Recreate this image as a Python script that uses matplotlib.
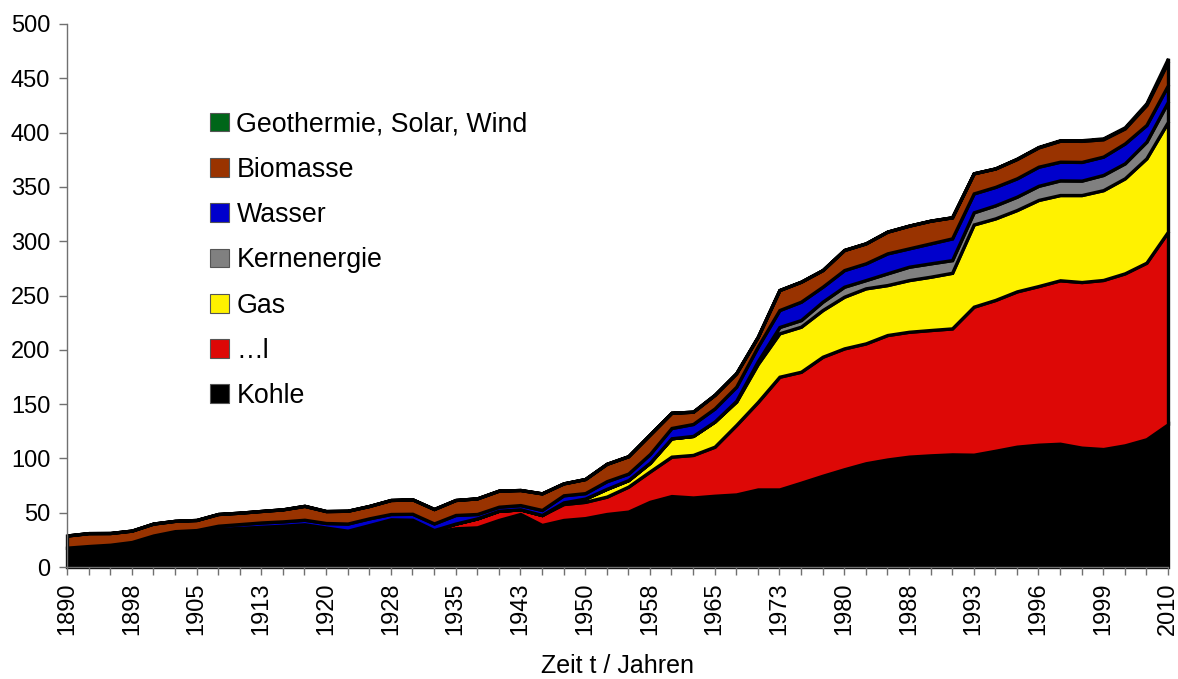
"""
Primärenergieverbrauch nach Energieträgern, 1890-2010 (gestapelte Flächen)
Nachbau einer Excel-Grafik mit matplotlib.
"""

import numpy as np
import matplotlib
matplotlib.use("Agg")  # kein Display vorhanden -> nur in Datei speichern
import matplotlib.pyplot as plt
from matplotlib.patches import Patch

plt.rcParams["font.family"] = ["Liberation Sans", "DejaVu Sans"]

# ===== Daten =====
# Kategorien der x-Achse (Excel-Kategorieachse, nur jede 3. beschriftet)
jahre = [
    "1890", "1893", "1895", "1898", "1900", "1903", "1905", "1908", "1910", "1913",
    "1915", "1918", "1920", "1923", "1925", "1928", "1930", "1933", "1935", "1938",
    "1940", "1943", "1945", "1948", "1950", "1953", "1955", "1958", "1960", "1963",
    "1965", "1968", "1970", "1973", "1975", "1978", "1980", "1983", "1985", "1988",
    "1990", "1992", "1993", "1994", "1995", "1996", "1997", "1998", "1999", "2000",
    "2005", "2010",
]

kohle = [
    17.8, 19.3, 20.5, 23.0, 26.0, 31.0, 32.0, 35.0, 36.0, 37.0,
    38.0, 39.3, 36.3, 33.4, 38.6, 42.0, 42.6, 32.5, 35.6, 36.5,
    43.3, 48.8, 38.7, 43.3, 45.0, 48.8, 51.0, 60.0, 65.3, 64.0,
    65.6, 66.8, 71.4, 71.4, 77.6, 84.0, 90.0, 95.5, 99.0, 101.6,
    102.8, 103.7, 103.4, 107.0, 110.8, 112.6, 113.5, 109.9, 108.6, 112.0,
    117.6, 131.4,
]
oel = [
    0, 0, 0, 0, 0, 0, 0, 0, 0, 0,
    0, 0, 0, 0, 0, 1.9, 0.9, 1.5, 4.4, 8.3,
    8.5, 4.3, 9.2, 14.7, 15.0, 16.0, 23.0, 28.0, 36.3, 39.2,
    45.2, 64.0, 80.6, 103.8, 102.2, 109.6, 111.3, 110.4, 114.6, 115.0,
    115.4, 116.0, 136.3, 138.9, 143.0, 146.1, 150.5, 152.5, 155.7, 158.4,
    162.6, 177.4,
]
gas = [
    0, 0, 0, 0, 0, 0, 0, 0, 0, 0,
    0, 0, 0, 0, 0, 0, 0, 0, 0, 0,
    0, 0, 0, 1.5, 3.0, 7.2, 6.0, 8.0, 16.9, 17.5,
    23.2, 21.5, 35.0, 40.0, 41.5, 43.0, 47.6, 50.7, 46.0, 47.6,
    49.1, 51.2, 75.7, 75.1, 74.9, 79.3, 78.5, 80.1, 82.7, 87.5,
    96.1, 101.2,
]
kernenergie = [
    0, 0, 0, 0, 0, 0, 0, 0, 0, 0,
    0, 0, 0, 0, 0, 0, 0, 0, 0, 0,
    0, 0, 0, 0, 0, 0, 0, 0, 0, 0,
    0, 0.7, 2.5, 5.8, 6.1, 7.7, 9.2, 7.6, 10.8, 12.3,
    12.3, 11.7, 11.2, 12.0, 12.3, 13.0, 13.5, 13.3, 14.0, 13.8,
    15.3, 18.5,
]
wasser = [
    0, 0, 0, 0, 3.0, 2.0, 2.0, 3.0, 3.5, 4.0,
    4.0, 4.2, 4.2, 6.6, 6.2, 4.9, 5.5, 6.1, 7.9, 4.0,
    3.7, 3.9, 4.6, 6.5, 5.0, 7.0, 6.0, 8.0, 9.5, 11.0,
    12.0, 13.0, 13.5, 15.6, 16.9, 13.8, 15.3, 15.4, 18.4, 16.9,
    18.4, 20.0, 17.4, 17.0, 16.9, 17.6, 17.2, 17.2, 16.9, 18.3,
    15.4, 15.3,
]
biomasse = [
    11.2, 11.9, 10.8, 10.5, 11.0, 9.5, 9.3, 10.8, 10.5, 10.6,
    11.1, 12.8, 11.0, 11.8, 11.4, 12.9, 13.3, 13.3, 13.8, 14.4,
    14.8, 13.9, 15.3, 11.0, 13.0, 16.0, 16.0, 18.0, 14.0, 11.3,
    12.5, 12.4, 9.0, 18.4, 18.4, 15.3, 18.5, 18.4, 20.0, 20.9,
    20.9, 19.4, 18.5, 17.0, 17.8, 17.8, 19.3, 19.4, 16.0, 13.9,
    18.5, 21.6,
]
geo_solar_wind = [
    0, 0, 0, 0, 0, 0, 0, 0, 0, 0,
    0, 0, 0, 0, 0, 0, 0, 0, 0, 0,
    0, 0, 0, 0, 0, 0, 0, 0, 0, 0,
    0, 0, 0, 0, 0, 0, 0, 0, 0, 0,
    0, 0, 0, 0, 0.3, 0.4, 0.5, 0.6, 0.8, 1.0,
    1.5, 3.0,
]

namen = ["Kohle", "\u2026l", "Gas", "Kernenergie", "Wasser", "Biomasse",
         "Geothermie, Solar, Wind"]
farben = ["#000000", "#dd0806", "#fff200", "#808080", "#0000cc", "#993300",
          "#006619"]


def main():
    fig = plt.figure(figsize=(11.78, 6.79), dpi=100)
    # Achsenbereich in Pixeln der Vorlage: x 67..1170, y 24..567
    ax = fig.add_axes([67 / 1178, 112 / 679, 1101 / 1178, 543 / 679])

    x = np.arange(len(jahre))
    serien = [kohle, oel, gas, kernenergie, wasser, biomasse, geo_solar_wind]

    # gestapelte Flächen mit schwarzem Rand (wie in Excel)
    polys = ax.stackplot(x, *serien, colors=farben,
                         edgecolor="black", linewidth=2.4)
    for p in polys:
        p.set_clip_on(False)
        p.set_joinstyle("miter")

    ax.set_xlim(0, len(jahre) - 1)
    ax.set_ylim(0, 500)

    # y-Achse
    ax.set_yticks(np.arange(0, 501, 50))
    # x-Achse: Strich an jeder Kategorie, Beschriftung nur jede dritte
    ax.set_xticks(x)
    ax.set_xticklabels([j if i % 3 == 0 else "" for i, j in enumerate(jahre)],
                       rotation=90)
    ax.tick_params(axis="both", labelsize=17, length=6, width=1,
                   color="#707070", direction="out")
    ax.tick_params(axis="x", pad=5)
    ax.tick_params(axis="y", pad=6)

    for s in ["top", "right"]:
        ax.spines[s].set_visible(False)
    for s in ["left", "bottom"]:
        ax.spines[s].set_color("#707070")
        ax.spines[s].set_linewidth(1)
    ax.set_axisbelow(False)

    ax.set_xlabel("Zeit t / Jahren", fontsize=18, labelpad=14)

    # Legende: oberste Schicht zuerst
    handles = [Patch(facecolor=f, edgecolor="#555555", linewidth=0.8, label=n)
               for n, f in zip(namen, farben)][::-1]
    fig.legend(handles=handles, loc="upper left",
               bbox_to_anchor=(197 / 1178, 1 - 98 / 679),
               frameon=False, fontsize=19.3, borderpad=0,
               handlelength=0.7, handleheight=0.7, handletextpad=0.27,
               labelspacing=0.72)

    fig.savefig("out.png", dpi=100)


if __name__ == "__main__":
    main()
